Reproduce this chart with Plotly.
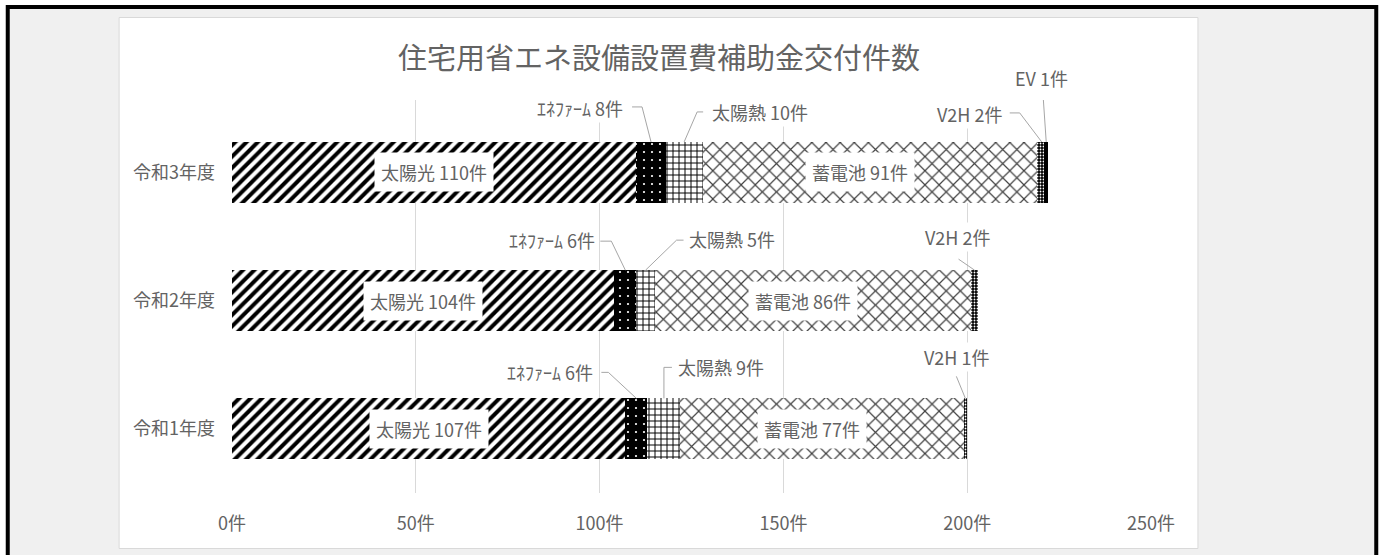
import plotly.graph_objects as go

# ---------------- data ----------------
years = ["令和1年度", "令和2年度", "令和3年度"]
series_names = ["太陽光", "ｴﾈﾌｧｰﾑ", "太陽熱", "蓄電池", "V2H", "EV"]
solar_pv = [107, 104, 110]
enefarm = [6, 6, 8]
solar_heat = [9, 5, 10]
battery = [77, 86, 91]
v2h = [1, 2, 2]
ev = [0, 0, 1]
x_ticks = [0, 50, 100, 150, 200, 250]
title_text = "住宅用省エネ設備設置費補助金交付件数"
unit = "件"

values = [solar_pv, enefarm, solar_heat, battery, v2h, ev]

# ---------------- styles ----------------
FONT = "Noto Sans CJK JP"
TXT = "#636363"
LBL = 18
patterns = [
    dict(shape="/", fgcolor="black", bgcolor="white", size=8, solidity=0.5, fillmode="replace"),
    dict(shape=".", fgcolor="white", bgcolor="black", size=8, solidity=0.06, fillmode="replace"),
    dict(shape="+", fgcolor="black", bgcolor="white", size=6, solidity=0.3, fillmode="replace"),
    dict(shape="x", fgcolor="#404040", bgcolor="white", size=10, solidity=0.22, fillmode="replace"),
    dict(shape=".", fgcolor="white", bgcolor="black", size=3, solidity=0.3, fillmode="replace"),
    None,
]
inside_series = {"太陽光": 0, "蓄電池": -10}  # series -> small horizontal label shift (px)

# label placement for outside labels: (series, row) -> text offset px (dx, dy down+), leader path px
outside = {
    ("ｴﾈﾌｧｰﾑ", 2): ((-71, -34), [(0, 0), (-9, -35), (-19, -35)]),
    ("太陽熱", 2): ((76, -30), [(0, 0), (13, -30), (19, -30)]),
    ("V2H", 2): ((-71, -28), [(1, 0), (-21, -29), (-31, -29)]),
    ("EV", 2): ((-5, -64), [(0, 0), (-3, -44)]),
    ("ｴﾈﾌｧｰﾑ", 1): ((-73, -30), [(0, 0), (-14, -29), (-25, -29)]),
    ("太陽熱", 1): ((86, -31), [(0, 0), (31, -30), (38, -30)]),
    ("V2H", 1): ((-17, -33), [(0, 0), (-16, -11)]),
    ("ｴﾈﾌｧｰﾑ", 0): ((-86, -26), [(0, 0), (-28, -26), (-35, -26)]),
    ("太陽熱", 0): ((57, -31), [(0, 0), (0, -31), (8, -31)]),
    ("V2H", 0): ((-9, -41), [(0, 0), (-9, -22)]),
}

W, H = 1386, 555
L, R, T, B = 231.5, 234.5, 100, 62
PW, PH = W - L - R, H - T - B
BARGAP = 0.524
HALF = (1 - BARGAP) / 2


def px(x):
    return (x - L) / PW


def py(y):
    return (H - B - y) / PH


fig = go.Figure()
for name, vals, pat in zip(series_names, values, patterns):
    marker = dict(color="black", line=dict(width=0))
    if pat is not None:
        marker["pattern"] = pat
    fig.add_trace(go.Bar(
        y=years, x=vals, name=name, orientation="h", marker=marker,
        hoverinfo="x+y+name",
    ))

annotations = []
shapes = []

# background shapes
shapes.append(dict(type="rect", xref="paper", yref="paper", x0=px(7), x1=px(1377), y0=py(7), y1=py(580),
                   fillcolor="#f0f0f0", line=dict(color="black", width=4), layer="below"))
shapes.append(dict(type="rect", xref="paper", yref="paper", x0=px(118.5), x1=px(1198.5), y0=py(17.5), y1=py(548.5),
                   fillcolor="white", line=dict(color="#d9d9d9", width=1), layer="below"))

# data labels
for row in range(len(years)):
    cum = 0
    for name, vals in zip(series_names, values):
        v = vals[row]
        center = cum + v / 2
        cum += v
        if v == 0:
            continue
        text = f"{name} {v}{unit}"
        if name in inside_series:
            annotations.append(dict(x=center, y=row, xref="x", yref="y", text=text, showarrow=False,
                                    font=dict(family=FONT, size=LBL, color=TXT), bgcolor="white",
                                    borderpad=6, xanchor="center", yanchor="middle",
                                    xshift=inside_series[name]))
        else:
            (dx, dy), path = outside[(name, row)]
            annotations.append(dict(x=center, y=row + HALF, xref="x", yref="y", text=text, showarrow=False,
                                    font=dict(family=FONT, size=LBL, color=TXT), bgcolor="white",
                                    borderpad=1, xanchor="center", yanchor="middle",
                                    xshift=dx, yshift=-dy))
            d = "M" + " L".join(f"{a},{-b}" for a, b in path)
            shapes.append(dict(type="path", xref="x", yref="y", xsizemode="pixel", ysizemode="pixel",
                               xanchor=center, yanchor=row + HALF, path=d,
                               line=dict(color="#a6a6a6", width=1)))

# title
annotations.append(dict(x=px(658.5), y=py(56), xref="paper", yref="paper", text=title_text, showarrow=False,
                        font=dict(family=FONT, size=29, color=TXT), xanchor="center", yanchor="middle"))

fig.update_layout(
    width=W, height=H,
    margin=dict(l=L, r=R, t=T, b=B, pad=0),
    barmode="stack", bargap=BARGAP,
    showlegend=False,
    paper_bgcolor="white", plot_bgcolor="rgba(0,0,0,0)",
    font=dict(family=FONT, color=TXT),
    xaxis=dict(range=[0, 250], tickvals=x_ticks, ticktext=[f"{v}{unit}" for v in x_ticks],
               showgrid=True, gridcolor="#d9d9d9",
               gridwidth=1, zeroline=False, showline=False, ticks="", ticklabelstandoff=18,
               tickfont=dict(family=FONT, size=LBL, color=TXT), fixedrange=True),
    yaxis=dict(range=[-0.5, 2.565], showgrid=False, zeroline=False, showline=False, ticks="",
               ticklabelstandoff=16, tickfont=dict(family=FONT, size=LBL, color=TXT), fixedrange=True),
    annotations=annotations,
    shapes=shapes,
)

fig.write_html(
    "out.html",
    config={"displayModeBar": False},
    post_script="document.body.style.margin='0px';document.documentElement.style.overflow='hidden';",
)
